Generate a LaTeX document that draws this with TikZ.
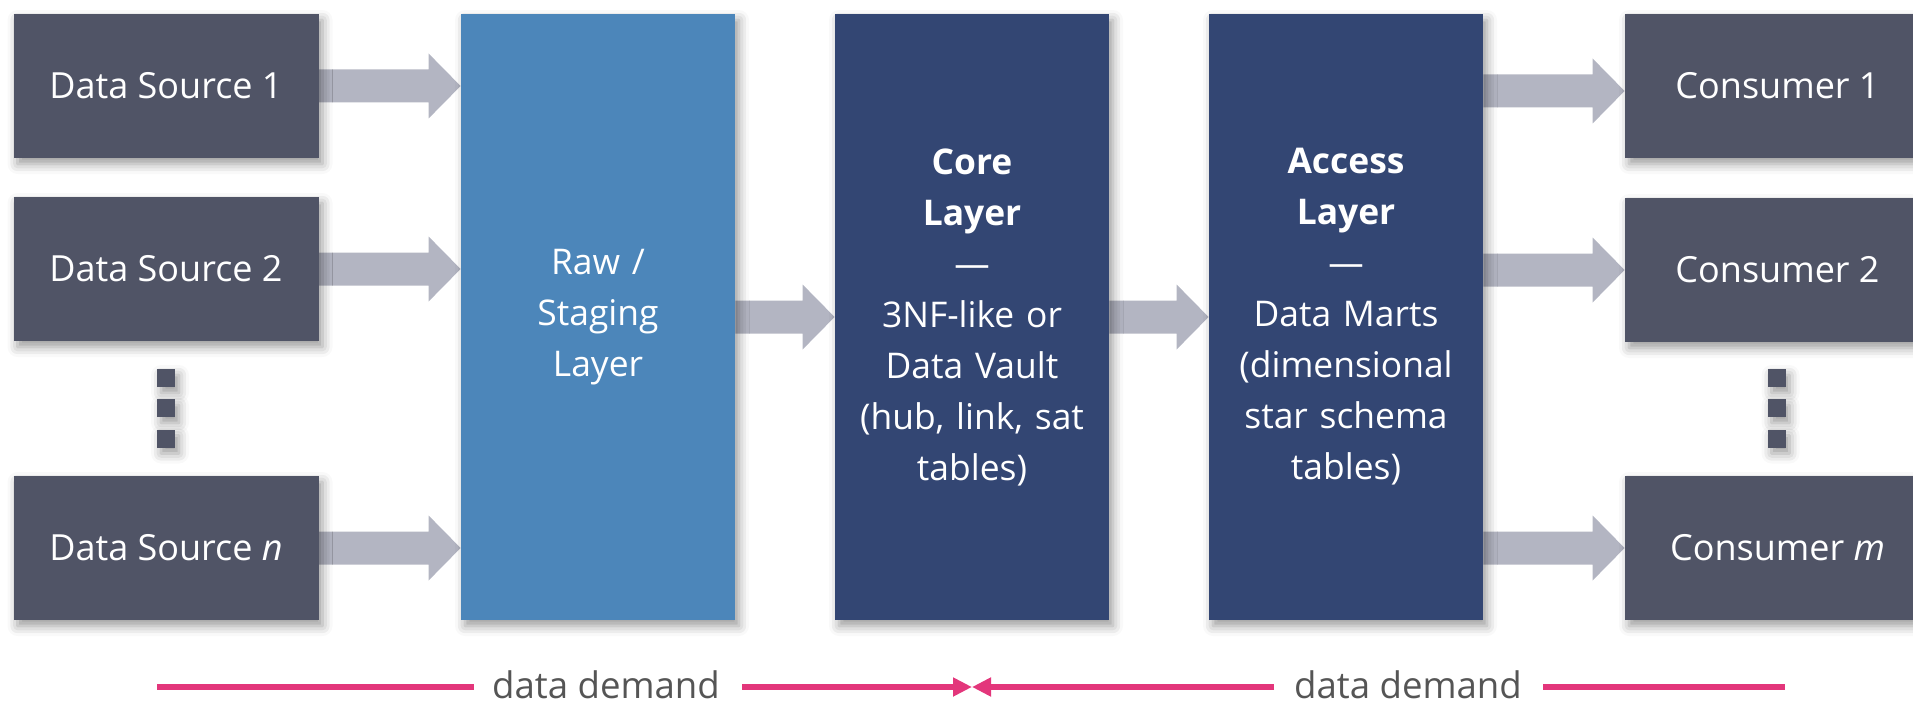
\documentclass[tikz,border=0pt]{standalone}
\usepackage{fontspec}
\setmainfont{Open Sans}
\usetikzlibrary{calc,arrows.meta,shadows.blur}
\pgfdeclarelayer{background}
\pgfsetlayers{background,main}
\definecolor{srcgray}{HTML}{505466}
\definecolor{rawblue}{HTML}{4C86BA}
\definecolor{navy}{HTML}{334673}
\definecolor{arrgray}{HTML}{B3B5C2}
\definecolor{demandpink}{HTML}{E3367B}
\definecolor{demandtext}{HTML}{555555}
\newcommand\blockarrow[4]{% from, to, y-reference node, extra y offset (px)
  \coordinate (s) at ($(#1.east |- #3.center)+(0,#4)$);
  \coordinate (t) at ($(#2.west |- #3.center)+(0,#4)$);
  \fill[arrowfill] ($(s)+(0,-16.5)$) -- ($(t)+(-32,-16.5)$) -- ($(t)+(-32,-32.5)$) -- (t)
     -- ($(t)+(-32,32.5)$) -- ($(t)+(-32,16.5)$) -- ($(s)+(0,16.5)$) -- cycle;
}
\begin{document}
\begin{tikzpicture}[x=0.5pt,y=-0.5pt,
  shad/.style={blur shadow={shadow xshift=2pt,shadow yshift=-3pt,shadow blur radius=5pt,shadow opacity=40}},
  srcbox/.style={shad, fill=srcgray, text=white, minimum width=152.5pt, minimum height=72pt,
     inner sep=0pt, font=\fontsize{18}{21}\selectfont},
  layer/.style={shad, minimum width=137pt, minimum height=303pt, inner sep=0pt, text=white,
     align=center, text width=132pt, font=\fontsize{17.7}{25.5}\selectfont},
  dotbox/.style={shad, fill=srcgray, minimum size=9pt, inner sep=0pt},
  arrowfill/.style={fill=arrgray},
  demand/.style={draw=demandpink, line width=3pt},
  demandtip/.style={-{Triangle[length=9.5pt,width=9pt]}},
  demandlabel/.style={text=demandtext, anchor=base, inner sep=0pt, font=\fontsize{18.3}{22}\selectfont}
]
\useasboundingbox (0,0) rectangle (1913,706);
\clip (0,0) rectangle (1913,706);

% boxes
\node[srcbox] (ds1) at (166,86) {Data Source 1};
\node[srcbox] (ds2) at (166,269) {Data Source 2};
\node[srcbox] (dsn) at (166,548) {Data Source \textit{n}};
\node[layer, fill=rawblue] (raw) at (598,317) {Raw /\\Staging\\Layer};
\node[layer, fill=navy] (core) at (972,317) {\textbf{Core}\\\textbf{Layer}\\—\\3NF-like or\\Data Vault\\(hub, link, sat\\tables)};
\node[layer, fill=navy] (access) at (1346,317) {\textbf{Access}\\\textbf{Layer}\\—\\Data Marts\\(dimensional\\star schema\\tables)};
\node[srcbox] (con1) at (1777.5,86) {Consumer 1};
\node[srcbox] (con2) at (1777.5,270) {Consumer 2};
\node[srcbox] (conm) at (1777.5,548) {Consumer \textit{m}};

\node[dotbox] (sd1) at (166,378) {};
\node[dotbox] (sd2) at (166,408) {};
\node[dotbox] (sd3) at (166,438.5) {};
\node[dotbox] (cd1) at (1776.5,378) {};
\node[dotbox] (cd2) at (1776.5,408) {};
\node[dotbox] (cd3) at (1776.5,438.5) {};

% block arrows (below the boxes' shadows)
\begin{pgfonlayer}{background}
\blockarrow{ds1}{raw}{ds1}{0}
\blockarrow{ds2}{raw}{ds2}{0}
\blockarrow{dsn}{raw}{dsn}{0}
\blockarrow{raw}{core}{raw}{0}
\blockarrow{core}{access}{core}{0}
\blockarrow{access}{con1}{con1}{5}
\blockarrow{access}{con2}{con2}{0}
\blockarrow{access}{conm}{conm}{0}
\end{pgfonlayer}

% data demand
\coordinate (la) at (157,687);
\coordinate (lb) at (474,687);
\coordinate (lc) at (742,687);
\coordinate (mid) at (972,687);
\coordinate (rc) at (1274,687);
\coordinate (rb) at (1543,687);
\coordinate (ra) at (1785,687);
\draw[demand] (la) -- (lb);
\draw[demand, demandtip] (lc) -- (mid);
\draw[demand, demandtip] (rc) -- (mid);
\draw[demand] (rb) -- (ra);
\node[demandlabel] (dl) at (606,698) {data demand};
\node[demandlabel] (dr) at (1408,698) {data demand};
\end{tikzpicture}
\end{document}
